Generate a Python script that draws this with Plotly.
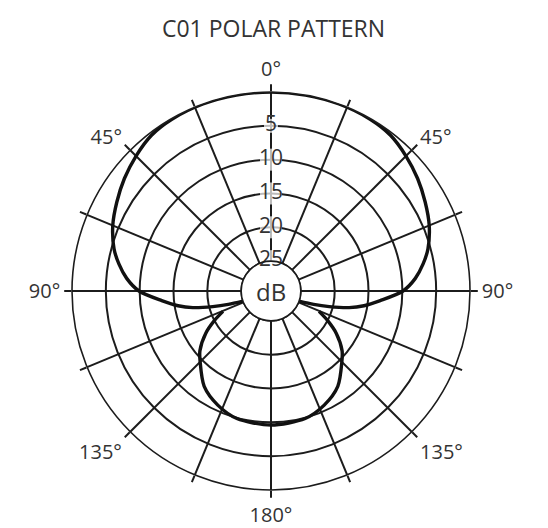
import numpy as np
import plotly.graph_objects as go

# ---- data (relative level in dB) ----
front_theta = [-110, -107.5, -105, -102, -99, -95, -90, -85, -80, -75, -67.5, -60, -52.5, -45, -37.5,
               -30, -20, -10, 0, 10, 20, 30, 37.5, 45, 52.5, 60, 67.5, 75, 80, 85, 90, 95, 99,
               102, 105, 107.5, 110]
front_level = [-25, -22.8, -20.5, -17.6, -15.5, -13.2, -9.9, -8.0, -6.6, -5.4, -4.1, -3.1, -2.1, -1.2, -0.4,
               -0.1, 0, 0, 0, 0, 0, -0.1, -0.4, -1.2, -2.1, -3.1, -4.1, -5.4, -6.6, -8.0, -9.9, -13.2, -15.5,
               -17.6, -20.5, -22.8, -25]
rear_theta = [113, 117.5, 123, 130, 135, 145, 155, 165, 180, 195, 205, 215, 225, 230, 237, 242.5, 247]
rear_level = [-21.7, -20, -17.9, -15.7, -14.6, -12.2, -10.8, -9.9, -9.6, -9.9, -10.8, -12.2, -14.6,
              -15.7, -17.9, -20, -21.7]

ring_levels = [-5, -10, -15, -20, -25]
ring_labels = ["5", "10", "15", "20", "25"]
spoke_angles = [0, 22.5, 45, 67.5, 90, 112.5, 135, 157.5, 180, 202.5, 225, 247.5, 270, 292.5, 315, 337.5]
spoke_labels = ["0°", "", "45°", "", "90°", "", "135°", "", "180°", "", "135°", "", "90°", "", "45°", ""]
title_text = "C01 POLAR PATTERN"
unit_text = "dB"

# ---- style ----
OFF = 8                      # page margin of the html body
W, H = 548 - OFF, 528 - OFF  # figure size inside the page
cx, cy, R = 271 - OFF, 291 - OFF, 199
dom_x = [(cx - R) / W, (cx + R) / W]
dom_y = [1 - (cy + R) / H, 1 - (cy - R) / H]
FONT = "Open Sans"
TXT = "#333333"
GRID = "#1c1c1c"

fig = go.Figure()

# inner (25 dB) circle
circ_theta = np.linspace(0, 360, 181)
fig.add_trace(go.Scatterpolar(theta=circ_theta, r=[ring_levels[-1]] * len(circ_theta), mode="lines",
                              line=dict(color=GRID, width=1.5), hoverinfo="skip", showlegend=False))

# ring labels on the 0° spoke
fig.add_trace(go.Scatterpolar(theta=[0] * len(ring_levels), r=ring_levels, mode="markers+text",
                              text=ring_labels, textposition="middle center",
                              textfont=dict(family=FONT, size=21, color=TXT),
                              marker=dict(symbol="square", color="white", size=[14, 22, 22, 22, 22],
                                          line=dict(width=0)),
                              hoverinfo="skip", showlegend=False, cliponaxis=False))

# pattern
fig.add_trace(go.Scatterpolar(theta=front_theta, r=front_level, mode="lines",
                              line=dict(color="#111111", width=3.4, shape="spline", smoothing=0.8),
                              showlegend=False))
fig.add_trace(go.Scatterpolar(theta=rear_theta, r=rear_level, mode="lines",
                              line=dict(color="#111111", width=3.4, shape="spline", smoothing=0.8),
                              showlegend=False))

fig.update_layout(
    width=W, height=H, autosize=False,
    margin=dict(l=0, r=0, t=0, b=0),
    paper_bgcolor="white",
    showlegend=False,
    title=dict(text=title_text, x=(273.5 - OFF) / W, xanchor="center", y=1 - (28.5 - OFF) / H,
               yanchor="middle", font=dict(family=FONT, size=23, color=TXT)),
    polar=dict(
        domain=dict(x=dom_x, y=dom_y),
        bgcolor="white",
        hole=0.15,
        radialaxis=dict(range=[-25, 0], angle=11.25, tickmode="array", tickvals=ring_levels[:-1],
                        showticklabels=False, ticks="", showline=False,
                        gridcolor=GRID, gridwidth=1.5),
        angularaxis=dict(rotation=90, direction="clockwise", tickmode="array",
                         tickvals=spoke_angles, ticktext=spoke_labels,
                         tickfont=dict(family=FONT, size=20, color=TXT),
                         ticks="outside", ticklen=7, tickwidth=1.5, tickcolor=GRID,
                         showline=True, linecolor=GRID, linewidth=1.6,
                         gridcolor=GRID, gridwidth=1.5),
    ),
    annotations=[dict(text=unit_text, x=sum(dom_x) / 2, y=sum(dom_y) / 2, xref="paper", yref="paper",
                      showarrow=False, xanchor="center", yanchor="middle",
                      font=dict(family=FONT, size=24, color=TXT))],
)

fig.write_html("out.html")
